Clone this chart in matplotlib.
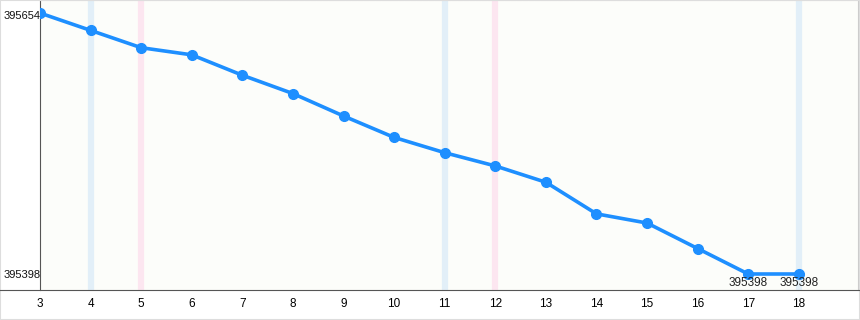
import matplotlib.pyplot as plt

plt.rcParams['font.family'] = ['Liberation Sans', 'DejaVu Sans']

steps = [3, 4, 5, 6, 7, 8, 9, 10, 11, 12, 13, 14, 15, 16, 17, 18]
values = [395654, 395637, 395620, 395613, 395593, 395575, 395553, 395532,
          395517, 395504, 395488, 395457, 395448, 395423, 395398, 395398]
blue_marks = [4, 11, 18]
pink_marks = [5, 12]
labelled = [17, 18]

fig = plt.figure(figsize=(8.6, 3.2), dpi=100)
ax = fig.add_axes([40 / 860, 30 / 320, 818 / 860, 290 / 320])
ax.set_facecolor('#fcfdfa')

for x in blue_marks:
    ax.axvline(x, color='#e2eff8', lw=4.5, zorder=1)
for x in pink_marks:
    ax.axvline(x, color='#fce6f0', lw=4.5, zorder=1)

ax.plot(steps, values, color='#1e8fff', lw=2.6, marker='o', ms=7, zorder=3)

for s, v in zip(steps, values):
    if s in labelled:
        ax.text(s, v - 3, str(v), ha='center', va='top', fontsize=8.5, color='#222222')

ax.set_xlim(3, 19.17)
ax.set_ylim(395382.3, 395666.8)
ax.set_xticks(steps)
ax.set_xticklabels([str(s) for s in steps], fontsize=8.5)
ax.tick_params(axis='x', length=0, pad=6)
ax.set_yticks([])

# y extreme labels, drawn in figure pixels at the left edge
fig.text(4 / 860, 1 - 16 / 320, str(values[0]), ha='left', va='center',
         fontsize=8, color='#111111')
fig.text(4 / 860, 1 - 275 / 320, str(values[-1]), ha='left', va='center',
         fontsize=8, color='#111111')

ax.spines['left'].set_color('#555555')
ax.spines['left'].set_linewidth(0.8)
ax.spines['bottom'].set_visible(False)
ax.spines['top'].set_color('#f0dede')
ax.spines['top'].set_linestyle('--')
ax.spines['right'].set_color('#cccccc')

# full width base line
fig.add_artist(plt.Line2D([0, 1], [30 / 320, 30 / 320], color='#555555', lw=0.8))
fig.add_artist(plt.Rectangle((0, 0), 1, 1, fill=False, ec='#dddddd', lw=1.5))

fig.savefig('out.png', dpi=100)
